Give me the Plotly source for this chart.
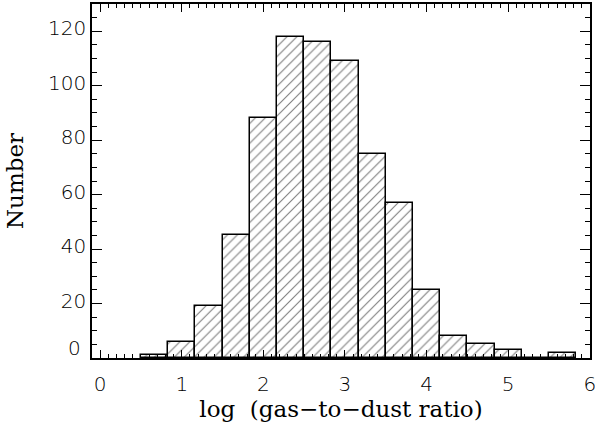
import plotly.graph_objects as go

bin_centers = [0.667, 1.0, 1.333, 1.667, 2.0, 2.333, 2.667, 3.0, 3.333, 3.667,
               4.0, 4.333, 4.667, 5.0, 5.333, 5.667]
counts = [1, 6, 19, 45, 88, 118, 116, 109, 75, 57, 25, 8, 5, 3, 0, 2]
bin_width = 1 / 3

x_tickvals = [0, 1, 2, 3, 4, 5, 6]
x_ticktext = ["0", "1", "2", "3", "4", "5", "6"]
y_tickvals = [20, 40, 60, 80, 100, 120]
y_ticktext = ["20", "40", "60", "80", "100", "120"]

tick_font = dict(family="DejaVu Sans", size=20, color="black", weight=200)
title_font = dict(family="DejaVu Serif", size=23, color="black")

fig = go.Figure()
fig.add_trace(go.Bar(
    x=bin_centers, y=counts, width=[bin_width] * len(counts),
    marker=dict(color="white",
                line=dict(color="black", width=1.5),
                pattern=dict(shape="/", size=7, solidity=0.16,
                             fgcolor="black", bgcolor="white")),
    showlegend=False,
))

fig.update_layout(
    width=595, height=428,
    margin=dict(l=92, r=5, t=4, b=70, autoexpand=False),
    paper_bgcolor="white", plot_bgcolor="white",
    bargap=0,
    xaxis=dict(range=[-0.1, 6.003], tickvals=x_tickvals, ticktext=x_ticktext,
               ticks="inside", ticklen=8, tickwidth=1, tickcolor="black",
               minor=dict(dtick=0.1, ticks="inside", ticklen=4, tickcolor="black"),
               showline=True, linecolor="black", linewidth=1.5, mirror="allticks",
               showgrid=False, zeroline=False, tickfont=tick_font,
               ticklabelstandoff=7, ticklabeloverflow="allow", automargin=False,
               title=dict(text="log  (gas\u2212to\u2212dust ratio)", font=title_font, standoff=0)),
    yaxis=dict(range=[0, 130], tickvals=y_tickvals, ticktext=y_ticktext,
               ticks="inside", ticklen=10, tickwidth=1, tickcolor="black",
               minor=dict(dtick=5, ticks="inside", ticklen=5, tickcolor="black"),
               showline=True, linecolor="black", linewidth=1.5, mirror="allticks",
               showgrid=False, zeroline=False, tickfont=tick_font,
               ticklabelshift=-3, automargin=False,
               title=dict(text="Number", font=title_font, standoff=18)),
    annotations=[dict(text="0", x=0, xref="paper", xanchor="right", xshift=-9,
                      y=3.8, yref="y", yanchor="middle", showarrow=False,
                      font=tick_font)],
)

fig.write_html("out.html")
